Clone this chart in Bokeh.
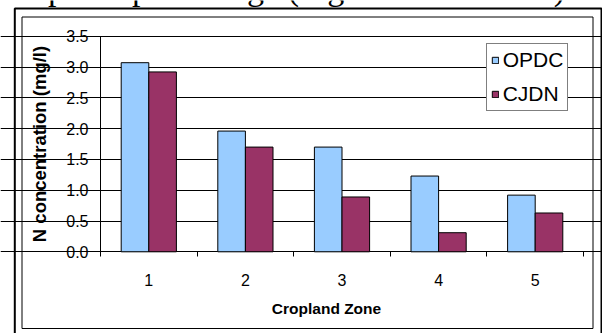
from bokeh.plotting import figure
from bokeh.models import (Range1d, FixedTicker, NumeralTickFormatter, Legend, LegendItem,
                          BoxAnnotation, Label, ColumnDataSource)
from bokeh.transform import dodge
from bokeh.embed import file_html
from bokeh.resources import INLINE

# --- data -------------------------------------------------------------
zones = [1, 2, 3, 4, 5]
zone_labels = ["1", "2", "3", "4", "5"]
opdc = [3.07, 1.96, 1.70, 1.23, 0.92]
cjdn = [2.92, 1.70, 0.89, 0.31, 0.63]
y_ticks = [0.0, 0.5, 1.0, 1.5, 2.0, 2.5, 3.0, 3.5]
series_names = ["OPDC", "CJDN"]
series_colors = ["#99CCFF", "#993366"]

FONT = "Liberation Sans"
W, H = 602, 333

# plot area inside the page (pixels from the top-left corner)
PX_LEFT, PX_RIGHT, PX_TOP, PX_BOTTOM = 100.0, 583.0, 35.7, 251.3
x_lo, x_hi = zones[0] - 0.5, zones[-1] + 0.5
y_lo, y_hi = y_ticks[0], y_ticks[-1]
kx = (PX_RIGHT - PX_LEFT) / (x_hi - x_lo)
ky = (PX_BOTTOM - PX_TOP) / (y_hi - y_lo)

# the frame fills the whole canvas; ranges are widened so the value
# region lands on the plot area and the axes sit at fixed locations
x_range = Range1d(x_lo - PX_LEFT / kx, x_hi + (W - PX_RIGHT) / kx)
y_range = Range1d(y_lo - (H - PX_BOTTOM) / ky, y_hi + PX_TOP / ky)

src = ColumnDataSource(dict(zone=zones, OPDC=opdc, CJDN=cjdn))

p = figure(width=W, height=H, x_range=x_range, y_range=y_range,
           output_backend="svg", toolbar_location=None,
           min_border=0, min_border_left=0, min_border_right=0,
           min_border_top=0, min_border_bottom=0)
p.outline_line_color = None
p.background_fill_color = "white"
p.border_fill_color = "white"


def sy(y_px):
    """screen-unit y (measured up from the bottom) for a pixel row."""
    return H - y_px


def baseline(y_px, size):
    """screen-unit y that puts a label's baseline on pixel row y_px."""
    return sy(y_px - 0.36 * size)


# clustered bars, gap width 150 % of a bar
bar_w = 1 / 3.5
renderers = []
for name, color, off in zip(series_names, series_colors, [-bar_w / 2, bar_w / 2]):
    r = p.vbar(x=dodge("zone", off, range=p.x_range), top=name, width=bar_w,
               source=src, fill_color=color, line_color="black", line_width=1)
    renderers.append(r)

# category axis: labels at the centres, tick marks between categories;
# its base line is the 0.0 grid line
xa = p.xaxis[0]
xa.fixed_location = y_lo
xa.bounds = (x_lo, x_hi)
xa.ticker = FixedTicker(ticks=zones,
                        minor_ticks=[z - 0.5 for z in zones] + [zones[-1] + 0.5])
xa.major_label_overrides = {z: lab for z, lab in zip(zones, zone_labels)}
xa.major_tick_line_color = None
xa.major_tick_out = 0
xa.major_tick_in = 0
xa.minor_tick_line_color = "black"
xa.minor_tick_out = 5
xa.minor_tick_in = 0
xa.major_label_standoff = 17
xa.major_label_text_font = FONT
xa.major_label_text_font_size = "16px"
xa.major_label_text_color = "black"
xa.axis_line_color = None

# value axis
ya = p.yaxis[0]
ya.fixed_location = x_lo
ya.bounds = (y_lo, y_hi)
ya.ticker = FixedTicker(ticks=y_ticks)
ya.formatter = NumeralTickFormatter(format="0.0")
ya.minor_tick_line_color = None
ya.major_tick_out = 5
ya.major_tick_in = 0
ya.major_tick_line_color = "black"
ya.major_label_standoff = 7
ya.major_label_text_font = FONT
ya.major_label_text_font_size = "16px"
ya.major_label_text_color = "black"
ya.axis_line_color = "black"
ya.axis_label = "N concentration (mg/l)"
ya.axis_label_text_font = FONT
ya.axis_label_text_font_style = "bold"
ya.axis_label_text_font_size = "18.5px"
ya.axis_label_text_color = "black"
ya.axis_label_standoff = 13

p.xgrid.visible = False
p.ygrid.ticker = FixedTicker(ticks=y_ticks)
p.ygrid.bounds = (x_lo, x_hi)
p.ygrid.grid_line_color = "black"
p.ygrid.grid_line_width = 1

# x axis title
p.add_layout(Label(x=326, y=baseline(314, 15.5), x_units="screen", y_units="screen",
                   text="Cropland Zone", text_font=FONT, text_font_style="bold",
                   text_font_size="15.5px", text_align="center",
                   text_baseline="alphabetic", text_color="black"))

# legend
legend = Legend(items=[LegendItem(label=n, renderers=[r])
                       for n, r in zip(series_names, renderers)],
                location=(485.7, sy(110.7)), orientation="vertical",
                glyph_width=8, glyph_height=8, label_standoff=4,
                label_text_font=FONT, label_text_font_size="21px",
                label_text_color="black", spacing=10, padding=4, margin=0,
                border_line_color="black", border_line_width=1,
                background_fill_color="white", background_fill_alpha=1)
p.add_layout(legend, "center")

# chart area frame and outer frame
p.add_layout(BoxAnnotation(left=21.5, right=592.5, top=sy(16.5), bottom=sy(328),
                           left_units="screen", right_units="screen",
                           top_units="screen", bottom_units="screen",
                           fill_alpha=0, line_color="black", line_alpha=1,
                           line_width=1))
p.add_layout(BoxAnnotation(left=14.3, right=601, top=sy(8), bottom=sy(345),
                           left_units="screen", right_units="screen",
                           top_units="screen", bottom_units="screen",
                           fill_alpha=0, line_color="black", line_alpha=1,
                           line_width=2))

# running text above the chart
p.add_layout(Label(x=4, y=baseline(0, 34), x_units="screen", y_units="screen",
                   text="cropland percentage (Figure and Table 3).",
                   text_font="Liberation Serif", text_font_size="34px",
                   text_align="left", text_baseline="alphabetic",
                   text_color="black"))

open("out.html", "w").write(file_html(p, INLINE))
